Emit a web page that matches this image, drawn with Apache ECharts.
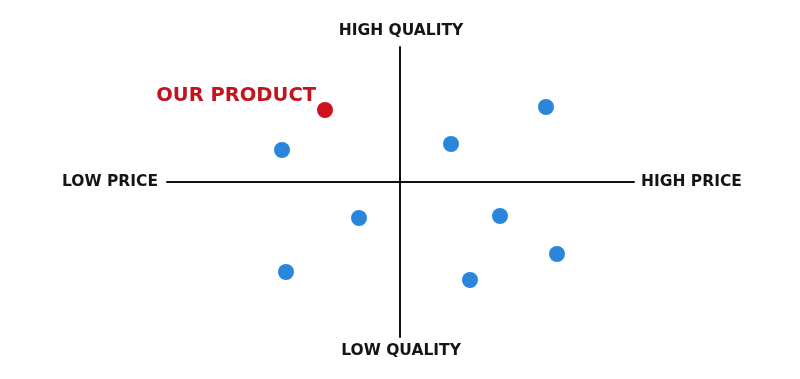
<!DOCTYPE html>
<html>
<head>
<meta charset="utf-8">
<script src="https://cdn.jsdelivr.net/npm/echarts@6/dist/echarts.min.js"></script>
<style>html,body{margin:0;padding:0;background:#fff}#c{width:800px;height:379px}</style>
</head>
<body>
<div id="c"></div>
<script>
// Positioning scores (price: negative = low, positive = high; quality: negative = low, positive = high)
const competitorPrice   = [-118, 51, 146, -41, 100, 157, -114, 70];
const competitorQuality = [32, 38, 75, -36, -34, -72, -90, -98];
const ourPrice = [-75];
const ourQuality = [72];
const ourLabel = 'OUR PRODUCT';
const axisLabels = { lowPrice: 'LOW PRICE', highPrice: 'HIGH PRICE', highQuality: 'HIGH QUALITY', lowQuality: 'LOW QUALITY' };
const xRange = [-233, 234];
const yRange = [-155, 135];

const FONT = 'DejaVu Sans';
const chart = echarts.init(document.getElementById('c'));
const textStyle = { fontFamily: FONT, fontWeight: 700, fontSize: 15.5, fill: '#151515' };
chart.setOption({
  animation: false,
  grid: { left: 167, right: 166, top: 47, bottom: 42 },
  xAxis: {
    type: 'value', min: xRange[0], max: xRange[1],
    axisLine: { onZero: true, lineStyle: { color: '#111', width: 2 } },
    axisTick: { show: false }, axisLabel: { show: false }, splitLine: { show: false }
  },
  yAxis: {
    type: 'value', min: yRange[0], max: yRange[1],
    axisLine: { onZero: true, lineStyle: { color: '#111', width: 2 } },
    axisTick: { show: false }, axisLabel: { show: false }, splitLine: { show: false }
  },
  series: [
    {
      type: 'scatter', symbolSize: 16,
      itemStyle: { color: '#2a86da', opacity: 1 },
      data: competitorPrice.map((p, i) => [p, competitorQuality[i]])
    },
    {
      type: 'scatter', symbolSize: 16,
      itemStyle: { color: '#d0101c', opacity: 1 },
      label: {
        show: true, formatter: ourLabel, position: 'left', distance: 1, offset: [0, -14],
        fontFamily: FONT, fontWeight: 700, fontSize: 19.5, color: '#c0141f'
      },
      data: ourPrice.map((p, i) => [p, ourQuality[i]])
    }
  ],
  graphic: [
    { type: 'text', right: 800 - 158, top: 174, style: Object.assign({ text: axisLabels.lowPrice }, textStyle) },
    { type: 'text', left: 641, top: 174, style: Object.assign({ text: axisLabels.highPrice }, textStyle) },
    { type: 'text', x: 401, y: 31, style: Object.assign({ text: axisLabels.highQuality, align: 'center', verticalAlign: 'middle' }, textStyle) },
    { type: 'text', x: 401, y: 351, style: Object.assign({ text: axisLabels.lowQuality, align: 'center', verticalAlign: 'middle' }, textStyle) }
  ]
});
</script>
</body>
</html>
